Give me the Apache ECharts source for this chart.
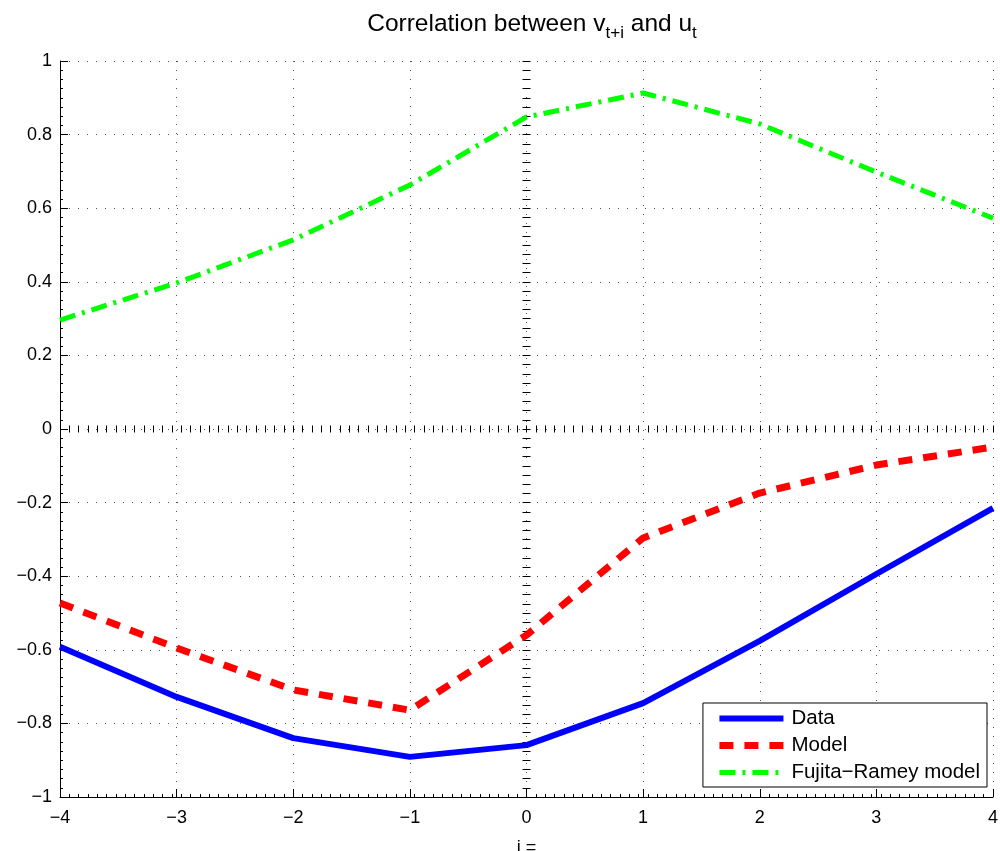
<!DOCTYPE html>
<html>
<head>
<meta charset="utf-8">
<script src="https://cdn.jsdelivr.net/npm/echarts@6/dist/echarts.min.js"></script>
<style>
  html, body { margin: 0; padding: 0; background: #fff; }
  #main { width: 1000px; height: 851px; }
</style>
</head>
<body>
<div id="main"></div>
<script>
// lags i = -4 .. 4
var lags = [-4, -3, -2, -1, 0, 1, 2, 3, 4];
var dataVals = [-0.592, -0.728, -0.840, -0.891, -0.859, -0.745, -0.576, -0.394, -0.215];
var modelVals = [-0.473, -0.595, -0.709, -0.764, -0.560, -0.296, -0.174, -0.098, -0.049];
var fujitaVals = [0.296, 0.397, 0.514, 0.663, 0.848, 0.913, 0.829, 0.698, 0.573];
var seriesNames = ['Data', 'Model', 'Fujita\u2212Ramey model'];

function pairs(xs, ys) {
  return xs.map(function (x, k) { return [x, ys[k]]; });
}
function fmt(v) {
  var r = Math.round(v * 10) / 10;
  return String(r).replace('-', '\u2212');
}

var font = 'Liberation Sans, Arial, Helvetica, sans-serif';
var dotted = { color: '#555', width: 1, type: [1, 8] };

var myChart = echarts.init(document.getElementById('main'));
myChart.setOption({
  backgroundColor: '#fff',
  animation: false,
  title: {
    text: '{a|Correlation between v}{s|t+i}{a| and u}{s|t}',
    left: 527,
    textAlign: 'center',
    top: 4,
    textStyle: {
      fontWeight: 'normal',
      rich: {
        a: { fontFamily: font, fontSize: 24.5, fontWeight: 'normal', color: '#000', lineHeight: 30 },
        s: { fontFamily: font, fontSize: 17, fontWeight: 'normal', color: '#000', lineHeight: 30, padding: [19, 0, 0, 0] }
      }
    }
  },
  legend: {
    orient: 'vertical',
    right: 13,
    bottom: 64,
    padding: [5, 7, 4, 13],
    itemGap: 6,
    itemWidth: 64,
    itemHeight: 20,
    backgroundColor: '#fff',
    borderColor: '#000',
    borderWidth: 1,
    borderRadius: 0,
    itemStyle: { opacity: 0 },
    lineStyle: { width: 'inherit', type: 'inherit' },
    data: seriesNames,
    textStyle: { fontFamily: font, fontSize: 20.5, color: '#000', padding: [0, 0, 0, 3] }
  },
  grid: [
    { left: 60, right: 7, top: 61, bottom: 54, outerBoundsMode: 'none' },
    // strip along y = 0 for its tick marks
    { left: 60, right: 7, top: 425.5, height: 7, outerBoundsMode: 'none' },
    // strip along x = 0 for its tick marks
    { left: 522.5, width: 8, top: 61, bottom: 54, outerBoundsMode: 'none' }
  ],
  xAxis: [
    {
      type: 'value', gridIndex: 0, min: -4, max: 4, interval: 1,
      position: 'bottom',
      name: 'i =', nameLocation: 'middle', nameGap: 42,
      nameTextStyle: { fontFamily: font, fontSize: 18, color: '#000' },
      axisLine: { onZero: false, lineStyle: { color: '#000', width: 1 } },
      axisTick: { inside: true, length: 8, lineStyle: { color: '#000' } },
      axisLabel: { fontFamily: font, fontSize: 18, color: '#000', margin: 12, formatter: fmt },
      splitLine: { show: true, lineStyle: dotted }
    },
    {
      type: 'value', gridIndex: 0, min: -4, max: 4, interval: 0.08,
      position: 'bottom',
      axisLine: { show: false, onZero: false },
      axisTick: { inside: true, length: 3, lineStyle: { color: '#000' } },
      axisLabel: { show: false },
      splitLine: { show: false }
    },
    {
      type: 'value', gridIndex: 1, min: -4, max: 4, interval: 0.08,
      position: 'bottom',
      axisLine: { show: false, onZero: false },
      axisTick: { inside: true, length: 7, lineStyle: { color: '#000' } },
      axisLabel: { show: false },
      splitLine: { show: false }
    },
    { type: 'value', gridIndex: 2, min: -1, max: 1, show: false }
  ],
  yAxis: [
    {
      type: 'value', gridIndex: 0, min: -1, max: 1, interval: 0.2,
      position: 'left',
      axisLine: { onZero: false, lineStyle: { color: '#000', width: 1 } },
      axisTick: { inside: true, length: 8, lineStyle: { color: '#000' } },
      minorTick: { show: true, splitNumber: 8, length: 3, lineStyle: { color: '#000' } },
      axisLabel: { fontFamily: font, fontSize: 18, color: '#000', margin: 8, formatter: fmt },
      splitLine: { show: true, lineStyle: dotted }
    },
    { type: 'value', gridIndex: 1, min: -1, max: 1, show: false },
    {
      type: 'value', gridIndex: 2, min: -1, max: 1, interval: 0.025,
      position: 'left',
      axisLine: { show: false, onZero: false },
      axisTick: { inside: true, length: 8, lineStyle: { color: '#000' } },
      axisLabel: { show: false },
      splitLine: { show: false }
    }
  ],
  series: [
    {
      name: seriesNames[0], type: 'line', xAxisIndex: 0, yAxisIndex: 0,
      data: pairs(lags, dataVals), symbol: 'none', color: '#0000ff',
      lineStyle: { color: '#0000ff', width: 6, type: 'solid' }
    },
    {
      name: seriesNames[1], type: 'line', xAxisIndex: 0, yAxisIndex: 0,
      data: pairs(lags, modelVals), symbol: 'none', color: '#ff0000',
      lineStyle: { color: '#ff0000', width: 7, type: [14, 11] }
    },
    {
      name: seriesNames[2], type: 'line', xAxisIndex: 0, yAxisIndex: 0,
      data: pairs(lags, fujitaVals), symbol: 'none', color: '#00ff00',
      lineStyle: { color: '#00ff00', width: 5, type: [16, 7, 3, 7] }
    }
  ]
});
</script>
</body>
</html>
